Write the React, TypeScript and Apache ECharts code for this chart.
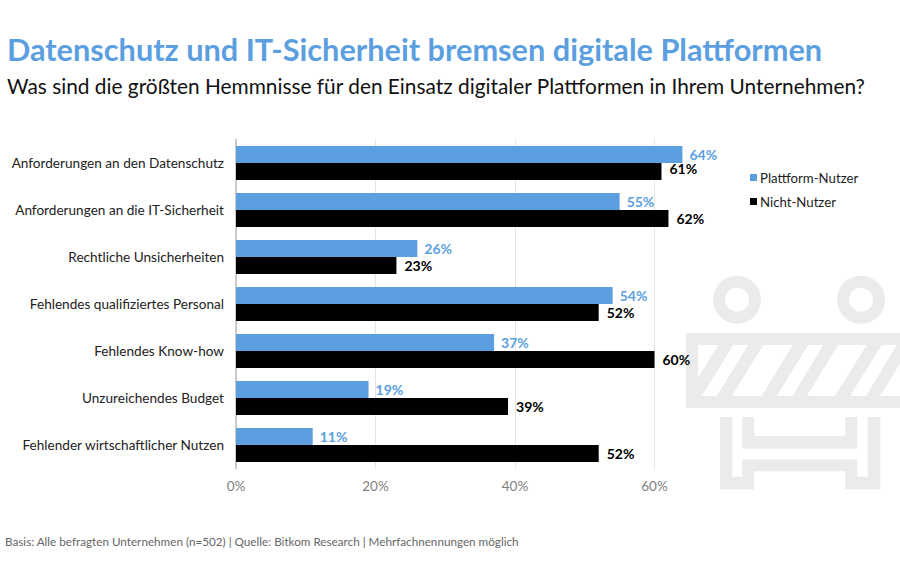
import React, { useEffect, useRef } from "react";
import * as echarts from "echarts";

const categories = [
  "Anforderungen an den Datenschutz",
  "Anforderungen an die IT-Sicherheit",
  "Rechtliche Unsicherheiten",
  "Fehlendes qualifiziertes Personal",
  "Fehlendes Know-how",
  "Unzureichendes Budget",
  "Fehlender wirtschaftlicher Nutzen",
];
const plattformNutzer = [64, 55, 26, 54, 37, 19, 11];
const nichtNutzer = [61, 62, 23, 52, 60, 39, 52];
const xTicks = [0, 20, 40, 60];
const titleText = "Datenschutz und IT-Sicherheit bremsen digitale Plattformen";
const subtitleText = "Was sind die größten Hemmnisse für den Einsatz digitaler Plattformen in Ihrem Unternehmen?";
const footerText = "Basis: Alle befragten Unternehmen (n=502) | Quelle: Bitkom Research | Mehrfachnennungen möglich";

const FONT = "Lato, sans-serif";
const BLUE = "#5B9FE0";
const ICON = "#EBEBEC";

const barrierPath =
  "M686 333H910V408H686Z M698 345V396H910V345Z " +
  "M718.3 345H733.3L701.7 396H686.7Z M748.3 345H763.3L731.7 396H716.7Z " +
  "M792.7 345H808.3L776.7 396H761.7Z M823.3 345H838.3L806.7 396H792.7Z " +
  "M866.7 345H881.7L850 396H835Z M896.7 345H911.7L880 396H866Z " +
  "M742.3 417H754.3V436H845.3V417H857.3V448.7H742.3Z " +
  "M742.3 459.3H857.3V476.7H867.7V417H880.3V489.3H845.3V471.3H754.3V489.3H720V417H732.3V476.7H742.3Z";
echarts.graphic.registerShape("barrierIcon", echarts.graphic.extendPath(barrierPath, {}));

export default function App() {
  const ref = useRef<HTMLDivElement>(null);
  useEffect(() => {
    const chart = echarts.init(ref.current!, undefined, { renderer: "svg" });
    chart.setOption({
      animation: false,
      textStyle: { fontFamily: FONT },
      title: [
        { text: titleText, left: 7, top: 34, padding: 0, textStyle: { fontFamily: FONT, fontSize: 30.7, fontWeight: 700, color: BLUE } },
        { text: subtitleText, left: 7, top: 75, padding: 0, textStyle: { fontFamily: FONT, fontSize: 20.85, fontWeight: 400, color: "#111111" } },
        { text: footerText, left: 5, top: 535, padding: 0, textStyle: { fontFamily: FONT, fontSize: 11.7, fontWeight: 400, color: "#666666" } },
      ],
      graphic: [
        { type: "ring", silent: true, shape: { cx: 737, cy: 299.7, r: 24, r0: 12 }, style: { fill: ICON } },
        { type: "ring", silent: true, shape: { cx: 861, cy: 299.7, r: 24, r0: 12 }, style: { fill: ICON } },
        { type: "barrierIcon", silent: true, x: 0, y: 0, style: { fill: ICON } },
      ],
      legend: {
        left: 750,
        top: 171,
        orient: "vertical",
        icon: "rect",
        itemWidth: 7,
        itemHeight: 7,
        itemGap: 11,
        padding: 0,
        selectedMode: false,
        textStyle: { fontFamily: FONT, fontSize: 13.2, color: "#222222", padding: [0, 0, 0, -2] },
        data: ["Plattform-Nutzer", "Nicht-Nutzer"],
      },
      grid: { left: 236, top: 139.5, width: 488.25, height: 329, containLabel: false },
      xAxis: {
        type: "value",
        min: 0,
        max: 70,
        interval: 20,
        axisLine: { show: false },
        axisTick: { show: false },
        axisLabel: {
          showMaxLabel: false,
          margin: 10,
          fontFamily: FONT,
          fontSize: 13.5,
          color: "#808080",
          formatter: (v: number) => (xTicks.includes(v) ? `${v}%` : ""),
        },
        splitLine: { showMaxLine: false, lineStyle: { color: "#E4E4E4", width: 1 } },
      },
      yAxis: {
        type: "category",
        inverse: true,
        data: categories,
        axisLine: { show: true, lineStyle: { color: "#BDBDBD", width: 1.5 } },
        axisTick: { show: false },
        axisLabel: { margin: 12, fontFamily: FONT, fontSize: 13.6, color: "#222222" },
      },
      series: [
        {
          name: "Plattform-Nutzer",
          type: "bar",
          data: plattformNutzer,
          barWidth: 17,
          barGap: 0,
          itemStyle: { color: BLUE },
          label: { show: true, position: "right", distance: 7, formatter: "{c}%", fontFamily: FONT, fontSize: 14, fontWeight: 700, color: BLUE },
        },
        {
          name: "Nicht-Nutzer",
          type: "bar",
          data: nichtNutzer.map((value, i) => (i === 0 ? { value, label: { offset: [0, -3] } } : value)),
          barWidth: 17,
          barGap: 0,
          itemStyle: { color: "#000000" },
          label: { show: true, position: "right", distance: 8, formatter: "{c}%", fontFamily: FONT, fontSize: 14, fontWeight: 700, color: "#000000" },
        },
      ],
    });
    return () => chart.dispose();
  }, []);
  return <div ref={ref} style={{ position: "absolute", left: 0, top: 0, width: 900, height: 563, background: "#ffffff" }} />;
}
